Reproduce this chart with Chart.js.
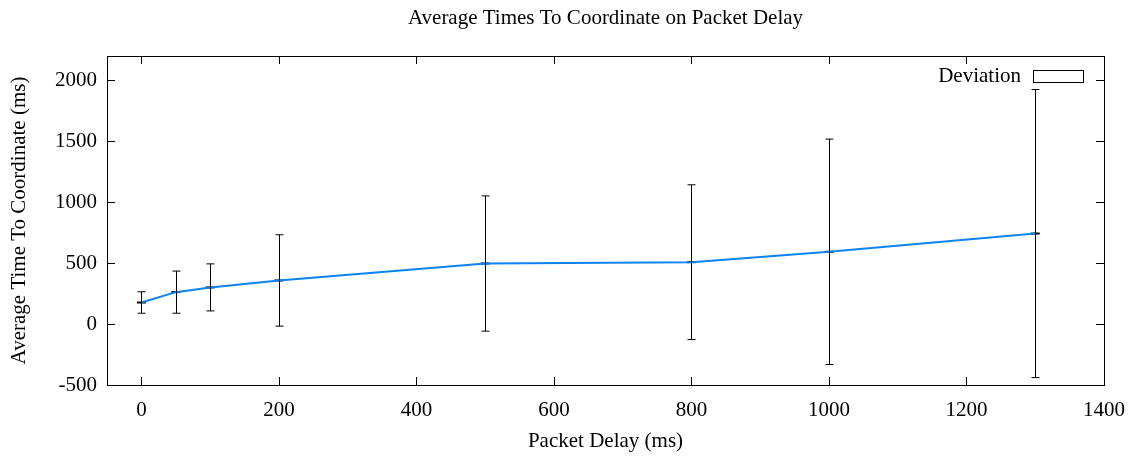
<!DOCTYPE html>
<html>
<head>
<meta charset="utf-8">
<script src="https://cdn.jsdelivr.net/npm/chart.js@4"></script>
<style>
  html, body { margin: 0; padding: 0; background: #fff; }
  #wrap { width: 1136px; height: 459px; }
</style>
</head>
<body>
<div id="wrap"><canvas id="delay_chart"></canvas></div>
<script>
// packet delay (ms) and the measured averages / deviations
var delays = [0, 50, 100, 200, 500, 800, 1000, 1300];
var avgTimes = [177, 262, 301, 358, 497, 508, 593, 743];
var deviation = [88, 173, 193, 375, 555, 635, 925, 1182];
var xTicks = [0, 200, 400, 600, 800, 1000, 1200, 1400];
var yTicks = [-500, 0, 500, 1000, 1500, 2000];
var chartTitle = 'Average Times To Coordinate on Packet Delay';

var serif = "'Liberation Serif', 'Times New Roman', serif";
var lineColor = '#0a84f5';

var points = delays.map(function (d, i) { return { x: d, y: avgTimes[i] }; });

// box + inward ticks on all four sides, gnuplot style
var framePlugin = {
  id: 'frame',
  afterDraw: function (chart) {
    var ctx = chart.ctx, a = chart.chartArea;
    var xs = chart.scales.x, ys = chart.scales.y;
    var tl = 8;
    ctx.save();
    ctx.strokeStyle = '#000';
    ctx.lineWidth = 1;
    ctx.beginPath();
    xTicks.forEach(function (v) {
      var px = Math.round(xs.getPixelForValue(v)) + 0.5;
      ctx.moveTo(px, a.bottom); ctx.lineTo(px, a.bottom - tl);
      ctx.moveTo(px, a.top); ctx.lineTo(px, a.top + tl);
    });
    yTicks.forEach(function (v) {
      var py = Math.round(ys.getPixelForValue(v)) + 0.5;
      ctx.moveTo(a.left, py); ctx.lineTo(a.left + tl, py);
      ctx.moveTo(a.right, py); ctx.lineTo(a.right - tl, py);
    });
    ctx.stroke();
    ctx.strokeRect(Math.round(a.left) + 0.5, Math.round(a.top) + 0.5,
      Math.round(a.right - a.left), Math.round(a.bottom - a.top));

    ctx.fillStyle = '#000';
    ctx.font = '21px ' + serif;
    ctx.textBaseline = 'middle';

    // title, centred over the plot like gnuplot does
    ctx.textAlign = 'center';
    ctx.fillText(chartTitle, (a.left + a.right) / 2, 18);

    // legend
    var bx = a.right - 71, by = a.top + 14;
    ctx.strokeRect(bx + 0.5, by + 0.5, 50, 12);
    ctx.textAlign = 'right';
    ctx.fillText('Deviation', bx - 12, by + 6);
    ctx.restore();
  }
};

// vertical error bars from the deviation array
var errorBarPlugin = {
  id: 'errorBars',
  afterDatasetsDraw: function (chart) {
    var ctx = chart.ctx;
    var xs = chart.scales.x, ys = chart.scales.y;
    var cap = 4;
    ctx.save();
    ctx.strokeStyle = '#000';
    ctx.lineWidth = 1;
    ctx.beginPath();
    delays.forEach(function (d, i) {
      var px = Math.round(xs.getPixelForValue(d)) + 0.5;
      var top = ys.getPixelForValue(avgTimes[i] + deviation[i]);
      var bot = ys.getPixelForValue(avgTimes[i] - deviation[i]);
      ctx.moveTo(px, top); ctx.lineTo(px, bot);
      ctx.moveTo(px - cap, top); ctx.lineTo(px + cap, top);
      ctx.moveTo(px - cap, bot); ctx.lineTo(px + cap, bot);
    });
    ctx.stroke();
    ctx.restore();
  }
};

function plain(value) { return String(value); }

var ctx = document.getElementById('delay_chart').getContext('2d');
var delay_chart = new Chart(ctx, {
  type: 'line',
  data: {
    datasets: [{
      label: '',
      data: points,
      borderColor: lineColor,
      borderWidth: 2,
      pointRadius: 0,
      tension: 0,
      fill: false
    }, {
      label: 'Deviation',
      data: points,
      showLine: false,
      pointStyle: 'line',
      pointRadius: 4.5,
      pointBorderWidth: 2,
      pointBorderColor: '#000',
      pointBackgroundColor: '#000'
    }]
  },
  options: {
    responsive: true,
    maintainAspectRatio: false,
    animation: false,
    events: [],
    layout: { padding: { left: 0, right: 32, top: 56, bottom: 0 } },
    plugins: {
      legend: { display: false },
      tooltip: { enabled: false },
      title: { display: false }
    },
    scales: {
      x: {
        type: 'linear',
        min: -50,
        max: 1400,
        grid: { display: false, drawTicks: false },
        border: { display: false },
        afterBuildTicks: function (scale) {
          scale.ticks = xTicks.map(function (v) { return { value: v }; });
        },
        afterFit: function (scale) {
          scale.height = 74;
          scale.paddingRight = 0;
          scale.paddingLeft = 0;
        },
        ticks: {
          color: '#000',
          padding: 13,
          maxRotation: 0,
          callback: plain,
          font: { family: serif, size: 21 }
        },
        title: {
          display: true,
          text: 'Packet Delay (ms)',
          color: '#000',
          font: { family: serif, size: 21 },
          padding: { top: 0, bottom: 5 }
        }
      },
      y: {
        type: 'linear',
        min: -500,
        max: 2200,
        grid: { display: false, drawTicks: false },
        border: { display: false },
        afterBuildTicks: function (scale) {
          scale.ticks = yTicks.map(function (v) { return { value: v }; });
        },
        afterFit: function (scale) { scale.width = 107; },
        ticks: {
          color: '#000',
          padding: 10,
          callback: plain,
          font: { family: serif, size: 21 }
        },
        title: {
          display: true,
          text: 'Average Time To Coordinate (ms)',
          color: '#000',
          font: { family: serif, size: 21 },
          padding: { top: 7, bottom: 0 }
        }
      }
    }
  },
  plugins: [errorBarPlugin, framePlugin]
});
</script>
</body>
</html>
